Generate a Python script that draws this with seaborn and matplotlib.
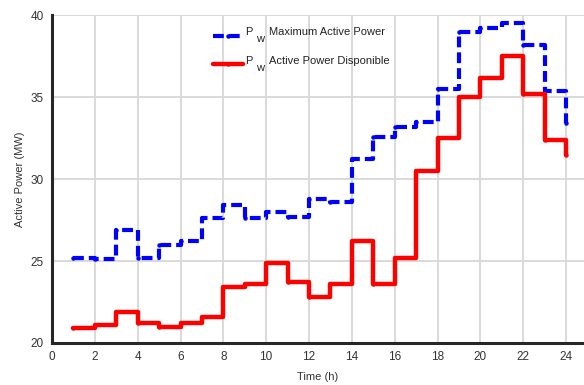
import matplotlib
matplotlib.use("Agg")
import matplotlib.pyplot as plt
import seaborn as sns
import pandas as pd

hours = list(range(1, 25))
p_max = [25.2, 25.1, 26.9, 25.2, 26.0, 26.2, 27.6, 28.4, 27.6, 28.0, 27.7, 28.8,
         28.6, 31.2, 32.6, 33.2, 33.5, 35.5, 39.0, 39.2, 39.5, 38.2, 35.4, 33.4]
p_disp = [20.9, 21.1, 21.9, 21.2, 21.0, 21.2, 21.6, 23.4, 23.6, 24.9, 23.7, 22.8,
          23.6, 26.2, 23.6, 25.2, 30.5, 32.5, 35.0, 36.2, 37.5, 35.2, 32.4, 31.5]
x_ticks = list(range(0, 25, 2))
y_ticks = [20, 25, 30, 35, 40]
series_names = ["Maximum Active Power", "Active Power Disponible"]

df = pd.DataFrame({"hour": hours, "pmax": p_max, "pdisp": p_disp})

sns.set_theme(style="white")
plt.rcParams["font.family"] = ["Liberation Sans", "DejaVu Sans"]

W, H = 584, 385
fig = plt.figure(figsize=(W / 100, H / 100), dpi=100)
ax = fig.add_axes([52 / W, 1 - 343 / H, (W - 52) / W, (343 - 15.3) / H])

sns.lineplot(data=df, x="hour", y="pmax", ax=ax, color="#0000ff", linewidth=3.0,
             drawstyle="steps-post", marker="o", markersize=3.2,
             markeredgewidth=0, label="P")
ax.lines[-1].set_dashes([2.6, 1.2])
sns.lineplot(data=df, x="hour", y="pdisp", ax=ax, color="#ff0000", linewidth=3.2,
             drawstyle="steps-post", marker="o", markersize=3.2,
             markeredgewidth=0, label="P")

ax.set_xlim(0, 24.84)
ax.set_ylim(20, 40)
ax.set_xticks(x_ticks)
ax.set_yticks(y_ticks)
ax.grid(True, color="#d9d9d9", linewidth=1.4)
ax.set_axisbelow(True)

for side in ["top", "right"]:
    ax.spines[side].set_visible(False)
for side in ["left", "bottom"]:
    ax.spines[side].set_color("#262626")
    ax.spines[side].set_linewidth(2.2)

ax.tick_params(axis="both", direction="in", length=4, width=2, color="#262626",
               labelsize=8.5, labelcolor="#333333", pad=6)

ax.set_xlabel("Time (h)", fontsize=8, color="#333333", labelpad=6)
ax.set_ylabel("Active Power (MW)", fontsize=8, color="#333333", labelpad=4)

leg = ax.legend(loc="upper left", bbox_to_anchor=(0.284, 0.98), frameon=False,
                fontsize=8, handlelength=2.7, handletextpad=0.2, labelspacing=1.65,
                labelcolor="#222222")

# legend symbol "P" sits a little above its handle
for t in leg.get_texts():
    t.set_position((0, 4.5))

# subscript "w" and the series names, placed next to each legend symbol
fig.canvas.draw()
renderer = fig.canvas.get_renderer()
for t, name in zip(leg.get_texts(), series_names):
    bb = t.get_window_extent(renderer)
    yc = (bb.y0 + bb.y1) / 2
    fig.text((bb.x1 + 3) / W, (yc - 7) / H, "w", fontsize=8,
             color="#222222", va="center", ha="left")
    fig.text((bb.x1 + 16) / W, yc / H, name, fontsize=8,
             color="#222222", va="center", ha="left")

fig.savefig("out.png", dpi=100)
